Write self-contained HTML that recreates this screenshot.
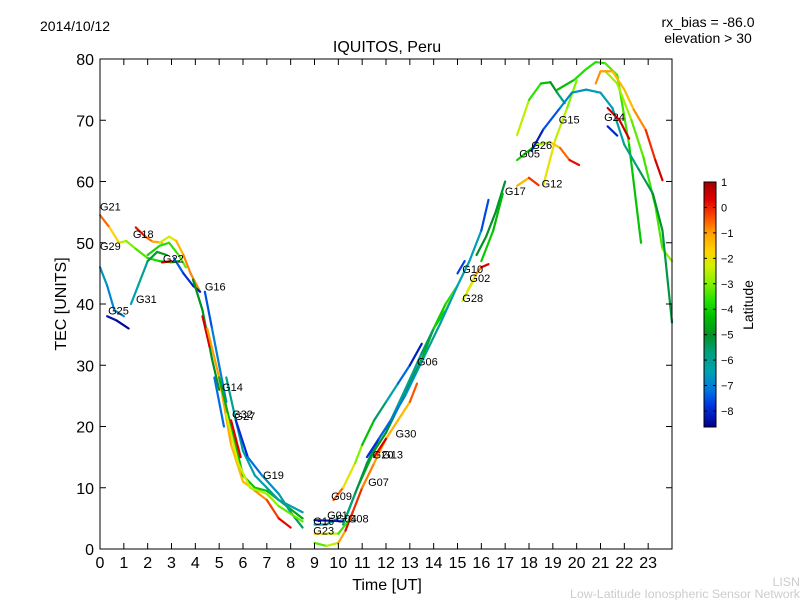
<!DOCTYPE html>
<html><head><meta charset="utf-8"><style>
html,body{margin:0;padding:0;background:#fff;}
svg text{font-family:"Liberation Sans","DejaVu Sans",sans-serif;}
</style></head><body>
<svg id="chart" width="800" height="600" xmlns="http://www.w3.org/2000/svg">
<defs>
<linearGradient id="jet" x1="0" y1="0" x2="0" y2="1"></linearGradient>
</defs>
<text x="40" y="31" font-size="14">2014/10/12</text>
<text x="708" y="27" font-size="14" text-anchor="middle">rx_bias = -86.0</text>
<text x="708" y="43" font-size="14" text-anchor="middle">elevation &gt; 30</text>
<text x="387" y="52" font-size="16" text-anchor="middle">IQUITOS, Peru</text>
<text x="387" y="590" font-size="16" text-anchor="middle">Time [UT]</text>
<text x="66" y="304" font-size="16" text-anchor="middle" transform="rotate(-90 66 304)">TEC [UNITS]</text>
<g id="plot"></g>
<g id="axes"></g>
<g id="cbar"></g>
<text x="800" y="586" font-size="12.4" fill="#cccccc" text-anchor="end">LISN</text>
<text x="800" y="598" font-size="12.4" fill="#cccccc" text-anchor="end">Low-Latitude Ionospheric Sensor Network</text>
</svg>
<script>
// data: tracks of [hour, TEC, latitude]
const xTicks=[0,1,2,3,4,5,6,7,8,9,10,11,12,13,14,15,16,17,18,19,20,21,22,23];
const yTicks=[0,10,20,30,40,50,60,70,80];
const cbTicks=[1,0,-1,-2,-3,-4,-5,-6,-7,-8];
const tracks=[
[[0,54.5,0],[0.4,52.5,-1.2],[0.8,50,-2.2],[1.1,50.3,-2.8],[1.5,49,-3.2],[2,47.5,-3.6],[2.5,47,-4],[3,46.8,-4],[3.3,47,-4]],
[[0,46,-6.5],[0.3,43,-6.8],[0.6,39,-7],[1,38,-7]],
[[1.3,40,-6.5],[1.6,43,-6.5],[2,47,-5.5],[2.4,48.5,-5],[2.8,48,-4.5]],
[[0.3,38,-8.2],[0.7,37.3,-8.4],[1.2,36,-8.6]],
[[1.5,52.5,0.5],[1.9,51,-0.2],[2.2,50.2,-1],[2.6,50,-1.2]],
[[2.5,50,-2.3],[2.9,51,-2.6],[3.2,50.3,-1.5],[3.5,48,-1],[3.8,45,-0.6],[4.2,42,-1]],
[[2,48,-4],[2.5,49.5,-3.8],[2.9,50,-3.7],[3.3,48,-3.5],[3.6,46,-3]],
[[2.6,46.8,0.5],[3,47,0.3]],
[[3.1,47.5,-7],[3.5,45,-7.8],[3.9,43,-8],[4.2,42,-8.2]],
[[3.9,44,-5],[4.3,39,-5],[4.7,31,-5],[5,26,-5]],
[[4.4,42,-8],[4.7,36,-7],[5,30,-7],[5.3,24,-7]],
[[4.3,38,0.5],[4.6,33,0.3]],
[[4.5,36,-1],[5,28,-1],[5.5,17,-1.2],[6,11,-1.5],[6.5,9.5,-1.2],[7,8,-0.5],[7.5,5,0],[8,3.5,0.5]],
[[5,28,-4.5],[5.5,20,-4.5],[6,12,-4.3],[6.5,10,-4],[7,9.5,-4.2],[7.5,8,-4.5],[8,6.5,-4.6],[8.5,5,-4.8]],
[[5.3,28,-6],[5.7,21,-6],[6,16,-6.2],[6.5,12,-6.5],[7,10,-6],[7.5,8,-6.2],[8.5,6,-6.5]],
[[5.7,21,-8.3],[6.2,15,-7.5],[6.8,12,-7],[7.5,9,-6.5],[8,6,-6],[8.5,3.5,-5]],
[[5.3,22,-2.2],[5.8,14,-2.3],[6.3,10,-2.5],[7,9,-2.8],[7.5,7,-3],[8.5,4.5,-3.5]],
[[4.8,28,-7],[5.2,20,-7.5]],
[[5.5,21,0.4],[5.9,15,0.2]],
[[9,1,-3.6],[9.5,0.5,-3],[10,1,-2],[10.3,3,0],[10.6,6,0.5]],
[[9,2.5,-1.5],[9.5,2.5,-2],[10,2.5,-3],[10.5,5,-4]],
[[9,4,-6.5],[9.5,4,-6.5],[10,5,-6]],
[[9,4.7,-8.6],[9.8,4.6,-8.2],[10.2,4.5,-8]],
[[9.8,8,0.5],[10.2,10,-1.5],[10.7,14,-2.5],[11,17,-3.5],[11.5,21,-5],[12,24,-6],[12.5,27,-6.8],[13,30,-7.8],[13.5,33.5,-8.5]],
[[10.3,5,-4],[10.8,10,-4.3],[11.5,16,-4.8],[12,19,-5],[12.5,23,-5],[13,27,-5],[13.5,31,-4.8],[14,36,-4.2],[14.5,40,-4],[15,43,-3.5]],
[[10.5,5,0.3],[11,10,-0.5],[11.5,14,-1],[12,18,-1],[12.5,21,-1.5],[13,24,-1.2],[13.3,27,0.3]],
[[10.2,4,-6],[10.7,9,-5.5],[11.2,14,-5],[11.7,18,-5.5],[12.2,21,-6],[12.8,26,-6],[13.5,32,-6],[14,36,-5],[14.5,39,-3],[15,43,-2]],
[[11.2,15,-8.2],[11.7,18,-7.5],[12.2,21,-7.2],[12.8,25,-7],[13.3,29,-6.5],[13.8,33,-6],[14.3,37,-6],[15,43,-7],[15.5,47,-6],[16,52,-7],[16.3,57,-8.2]],
[[11.5,15,0.2],[12,18,0.5]],
[[15,45,-8.3],[15.3,47,-7]],
[[15.4,42,-2],[15.8,45,-1.5],[16,46,0],[16.3,46.5,0.6]],
[[15.2,40.5,-2],[15.7,44,-2.5]],
[[15.8,48,-5],[16.2,51,-5],[16.6,55,-5],[17,60,-5.2]],
[[16,47,-4],[16.5,52,-4.2],[16.9,58,-4.5]],
[[17.5,59.3,-1.8],[18,60.6,-0.8],[18.4,59.4,0.5]],
[[18.6,59.4,-1.8],[19.1,66.8,-2.2],[19.6,72,-2.8],[20,76.5,-3.2]],
[[17.5,63.5,-4.5],[18.3,66,-3.5],[18.9,66.4,-2],[19.3,65.5,-1],[19.7,63.5,-0.2],[20.1,62.7,0.6]],
[[17.5,67.6,-2],[18,73.3,-3],[18.5,76,-4.2],[18.9,76.2,-4.3],[19.2,74.4,-5.5],[19.5,72.8,-6]],
[[19.2,75,-4.5],[19.9,76.6,-4],[20.35,78.2,-3.5],[20.8,79.5,-3.8],[21.2,79.3,-3.5],[21.7,77.4,-3.2],[22.2,66,-3.8],[22.7,50,-4.6]],
[[21.2,78,-3],[21.7,76,-2.5],[22.3,70,-3],[22.8,64,-3.5],[23.3,56,-3.5],[23.6,49,-3.3],[24,47,-2.5]],
[[18.1,65,-8.3],[18.6,68.5,-8],[19.3,72,-7],[19.8,74.5,-6.8],[20.4,75,-6.6],[21,74.5,-6.6],[21.5,72,-6.5],[22,66,-6.2],[22.6,62,-5.5],[23.2,58,-5.2],[23.6,52,-5],[24,37,-5.5]],
[[20.8,76,-1],[21,78,-0.8],[21.5,78,-1.2],[22,75,-1.5],[22.4,71.7,-1.2],[22.9,68.4,-0.5],[23.3,63.5,0.3],[23.6,60.2,0.6]],
[[21.3,72,0.4],[21.8,70,0.5],[22.2,67,0.6]],
[[21.3,69,-8.5],[21.7,67.5,-7.5]]
];
const labels=[["G21",0,55.3],["G18",1.38,50.8],["G29",0,48.8],["G22",2.64,46.8],["G16",4.4,42.2],["G31",1.51,40.2],["G25",0.34,38.3],["G14",5.12,25.8],["G32",5.54,21.4],["G27",5.64,21.1],["G19",6.84,11.4],["G09",9.7,8.0],["G01",9.53,4.9],["G16",8.95,3.9],["G04",9.9,4.3],["G08",10.4,4.3],["G23",8.95,2.4],["G07",11.25,10.3],["G20",11.44,14.8],["G13",11.84,14.8],["G30",12.4,18.2],["G06",13.3,30.0],["G28",15.2,40.3],["G02",15.5,43.6],["G10",15.2,45.1],["G17",16.99,57.8],["G12",18.53,59.0],["G05",17.59,63.9],["G26",18.1,65.3],["G15",19.25,69.5],["G24",21.15,69.9]];

const X0=100,X1=672,Y0=549,Y1=59,XMAX=24,YMAX=80;
const sx=t=>X0+t*(X1-X0)/XMAX, sy=v=>Y0-v*(Y0-Y1)/YMAX;
const CB0=182,CB1=427,LMAX=1,LMIN=-8.63;
const ly=l=>CB0+(LMAX-l)*(CB1-CB0)/(LMAX-LMIN);
const stops=[[1,[160,0,0]],[0.3,[225,0,0]],[-0.5,[255,90,0]],[-1,[255,160,0]],[-1.7,[255,210,0]],[-2.3,[210,240,0]],[-3,[130,240,0]],[-3.7,[30,225,0]],[-4.3,[0,190,0]],[-5,[0,145,35]],[-5.7,[0,160,125]],[-6.5,[0,160,180]],[-7.2,[0,115,225]],[-7.8,[0,50,225]],[-8.63,[0,0,140]]];
function col(l){
  if(l>=stops[0][0])return 'rgb('+stops[0][1]+')';
  for(let i=0;i<stops.length-1;i++){const a=stops[i],b=stops[i+1];
    if(l<=a[0]&&l>=b[0]){const f=(a[0]-l)/(a[0]-b[0]);return 'rgb('+a[1].map((c,k)=>Math.round(c+(b[1][k]-c)*f)).join(',')+')';}}
  return 'rgb('+stops[stops.length-1][1]+')';
}
const NS='http://www.w3.org/2000/svg';
function mk(tag,attrs,parent){const e=document.createElementNS(NS,tag);for(const k in attrs)e.setAttribute(k,attrs[k]);parent.appendChild(e);return e;}
const plot=document.getElementById('plot'),axes=document.getElementById('axes'),cbar=document.getElementById('cbar');
tracks.forEach((tr,ti)=>{
  const g=mk('g',{},plot);
  
  
  for(let i=0;i<tr.length-1;i++){
    const a=tr[i],b=tr[i+1];
    const ln=mk('line',{x1:sx(a[0]),y1:sy(a[1]),x2:sx(b[0]),y2:sy(b[1]),stroke:col((a[2]+b[2])/2),'stroke-width':2.2,'stroke-linecap':'round'},g);
    
    
  }
});
labels.forEach(l=>{
  const t=mk('text',{x:sx(l[1]),y:sy(l[2]),'font-size':11},plot);
  t.textContent=l[0];
  
  
});
const fr=mk('rect',{x:X0,y:Y1,width:X1-X0,height:Y0-Y1,fill:'none',stroke:'#000','stroke-width':1},axes);


xTicks.forEach(v=>{
  const x=sx(v);
  mk('line',{x1:x,y1:Y0,x2:x,y2:Y0-6,stroke:'#000'},axes);
  mk('line',{x1:x,y1:Y1,x2:x,y2:Y1+6,stroke:'#000'},axes);
  const t=mk('text',{x:x,y:Y0+19,'font-size':16,'text-anchor':'middle'},axes);
  t.textContent=v;
  
  
});
yTicks.forEach(v=>{
  const y=sy(v);
  mk('line',{x1:X0,y1:y,x2:X0+6,y2:y,stroke:'#000'},axes);
  mk('line',{x1:X1,y1:y,x2:X1-6,y2:y,stroke:'#000'},axes);
  const t=mk('text',{x:X0-6,y:y+6,'font-size':16,'text-anchor':'end'},axes);
  t.textContent=v;
  
  
});
const grad=document.getElementById('jet');
stops.forEach(s=>{mk('stop',{offset:((LMAX-s[0])/(LMAX-LMIN)).toFixed(4),'stop-color':'rgb('+s[1]+')'},grad);});
const cr=mk('rect',{x:704,y:CB0,width:12,height:CB1-CB0,fill:'url(#jet)',stroke:'#000','stroke-width':1},cbar);


cbTicks.forEach(v=>{
  const y=ly(v);
  mk('line',{x1:704,y1:y,x2:707,y2:y,stroke:'#000'},cbar);
  mk('line',{x1:716,y1:y,x2:713,y2:y,stroke:'#000'},cbar);
  const t=mk('text',{x:721,y:y+4,'font-size':11},cbar);
  t.textContent=v<0?'\u2212'+(-v):v;
  
  
});
const ct=mk('text',{x:753,y:305,'font-size':14,'text-anchor':'middle',transform:'rotate(-90 753 305)'},cbar);
ct.textContent='Latitude';


</script>
</body></html>
